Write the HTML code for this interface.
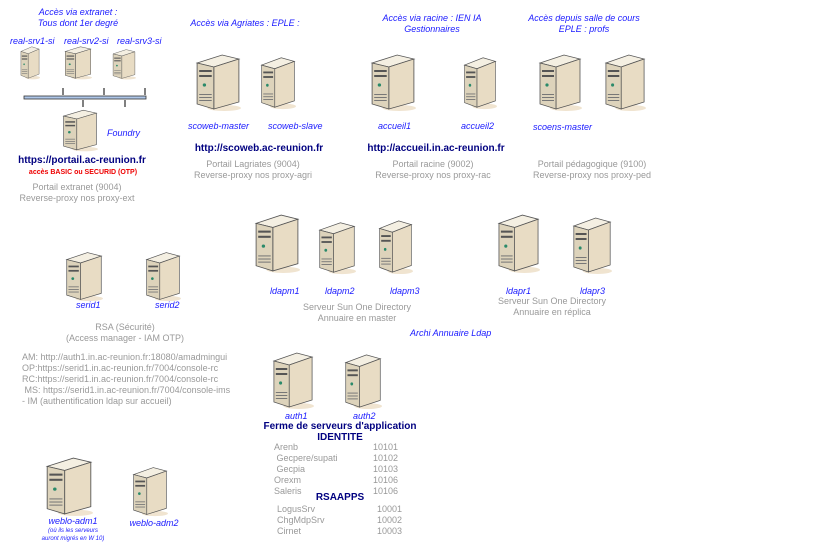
<!DOCTYPE html>
<html><head><meta charset="utf-8"><style>
body{margin:0;width:840px;height:557px;background:#fff;position:relative;overflow:hidden;font-family:"Liberation Sans",sans-serif}
.t{position:absolute;white-space:nowrap;font-size:9px;line-height:11px}
.b{color:#1a1aff;font-style:italic}
.n{color:#000080;font-weight:bold;font-size:10px}
.g{color:#999;font-size:9px;line-height:11px;text-align:center}
.c{text-align:center;transform:translateX(-50%)}
svg.s{position:absolute}
</style></head><body>
<svg width="0" height="0" style="position:absolute"><defs>
<g id="srv">
<ellipse cx="28" cy="56" rx="16" ry="3" fill="#f0e4d0"/>
<polygon points="2,11 26,3 42,7 18,15" fill="#f4efe2" stroke="#555" stroke-width="0.8"/>
<polygon points="18,15 42,7 42,50 18,57" fill="#e8dcc4" stroke="#555" stroke-width="0.8"/>
<polygon points="2,11 18,15 18,57 2,52" fill="#ddd3bb" stroke="#555" stroke-width="0.8"/>
<rect x="4" y="18" width="12" height="2" fill="#555"/><rect x="4" y="23" width="12" height="2" fill="#555"/>
<circle cx="9" cy="33" r="1.6" fill="#2a8a6a"/>
<rect x="4" y="42" width="12" height="1" fill="#777"/><rect x="4" y="45" width="12" height="1" fill="#777"/><rect x="4" y="48" width="12" height="1" fill="#777"/>
</g></defs></svg>
<svg class="s" style="left:20px;top:45px" width="20" height="35" viewBox="0 0 44 60" preserveAspectRatio="none"><use href="#srv"/></svg>
<svg class="s" style="left:64px;top:45px" width="28" height="35" viewBox="0 0 44 60" preserveAspectRatio="none"><use href="#srv"/></svg>
<svg class="s" style="left:112px;top:48px" width="24" height="32" viewBox="0 0 44 60" preserveAspectRatio="none"><use href="#srv"/></svg>
<svg class="s" style="left:62px;top:108px" width="36" height="44" viewBox="0 0 44 60" preserveAspectRatio="none"><use href="#srv"/></svg>
<svg class="s" style="left:195px;top:52px" width="46" height="60" viewBox="0 0 44 60" preserveAspectRatio="none"><use href="#srv"/></svg>
<svg class="s" style="left:260px;top:55px" width="36" height="55" viewBox="0 0 44 60" preserveAspectRatio="none"><use href="#srv"/></svg>
<svg class="s" style="left:370px;top:52px" width="46" height="60" viewBox="0 0 44 60" preserveAspectRatio="none"><use href="#srv"/></svg>
<svg class="s" style="left:463px;top:55px" width="34" height="55" viewBox="0 0 44 60" preserveAspectRatio="none"><use href="#srv"/></svg>
<svg class="s" style="left:538px;top:52px" width="44" height="60" viewBox="0 0 44 60" preserveAspectRatio="none"><use href="#srv"/></svg>
<svg class="s" style="left:604px;top:52px" width="42" height="60" viewBox="0 0 44 60" preserveAspectRatio="none"><use href="#srv"/></svg>
<svg class="s" style="left:254px;top:212px" width="46" height="62" viewBox="0 0 44 60" preserveAspectRatio="none"><use href="#srv"/></svg>
<svg class="s" style="left:318px;top:220px" width="38" height="55" viewBox="0 0 44 60" preserveAspectRatio="none"><use href="#srv"/></svg>
<svg class="s" style="left:378px;top:218px" width="35" height="57" viewBox="0 0 44 60" preserveAspectRatio="none"><use href="#srv"/></svg>
<svg class="s" style="left:497px;top:212px" width="43" height="62" viewBox="0 0 44 60" preserveAspectRatio="none"><use href="#srv"/></svg>
<svg class="s" style="left:572px;top:215px" width="40" height="60" viewBox="0 0 44 60" preserveAspectRatio="none"><use href="#srv"/></svg>
<svg class="s" style="left:65px;top:250px" width="38" height="52" viewBox="0 0 44 60" preserveAspectRatio="none"><use href="#srv"/></svg>
<svg class="s" style="left:145px;top:250px" width="36" height="52" viewBox="0 0 44 60" preserveAspectRatio="none"><use href="#srv"/></svg>
<svg class="s" style="left:272px;top:350px" width="42" height="60" viewBox="0 0 44 60" preserveAspectRatio="none"><use href="#srv"/></svg>
<svg class="s" style="left:344px;top:352px" width="38" height="58" viewBox="0 0 44 60" preserveAspectRatio="none"><use href="#srv"/></svg>
<svg class="s" style="left:45px;top:455px" width="48" height="62" viewBox="0 0 44 60" preserveAspectRatio="none"><use href="#srv"/></svg>
<svg class="s" style="left:132px;top:465px" width="36" height="52" viewBox="0 0 44 60" preserveAspectRatio="none"><use href="#srv"/></svg>
<!-- bus -->
<svg class="s" style="left:20px;top:84px" width="130" height="26">
<rect x="4" y="12" width="122" height="3" fill="#aec6e8" stroke="#333" stroke-width="0.8"/>
<line x1="43" y1="4" x2="43" y2="11" stroke="#000"/><line x1="84" y1="4" x2="84" y2="11" stroke="#000"/><line x1="125" y1="4" x2="125" y2="11" stroke="#000"/>
<line x1="63" y1="16" x2="63" y2="23" stroke="#000"/><line x1="105" y1="16" x2="105" y2="23" stroke="#000"/>
</svg>
<!-- labels -->
<div class="t b c" style="left:78px;top:7px;text-align:center">Accès via extranet :<br>Tous dont 1er degré</div>
<div class="t b" style="left:10px;top:36px">real-srv1-si</div>
<div class="t b" style="left:64px;top:36px">real-srv2-si</div>
<div class="t b" style="left:117px;top:36px">real-srv3-si</div>
<div class="t b" style="left:107px;top:128px">Foundry</div>
<div class="t n c" style="left:82px;top:155px">https://portail.ac-reunion.fr</div>
<div class="t c" style="left:83px;top:167px;color:#e00;font-size:7px;font-weight:bold">accès BASIC ou SECURID (OTP)</div>
<div class="t g c" style="left:77px;top:182px">Portail extranet (9004)<br>Reverse-proxy nos proxy-ext</div>
<div class="t b c" style="left:245px;top:18px">Accès via Agriates : EPLE :</div>
<div class="t b c" style="left:432px;top:13px;text-align:center">Accès via racine : IEN IA<br>Gestionnaires</div>
<div class="t b c" style="left:584px;top:13px;text-align:center">Accès depuis salle de cours<br>EPLE : profs</div>
<div class="t b" style="left:188px;top:121px">scoweb-master</div>
<div class="t b" style="left:268px;top:121px">scoweb-slave</div>
<div class="t b" style="left:378px;top:121px">accueil1</div>
<div class="t b" style="left:461px;top:121px">accueil2</div>
<div class="t b" style="left:533px;top:122px">scoens-master</div>
<div class="t n c" style="left:259px;top:143px">http://scoweb.ac-reunion.fr</div>
<div class="t n c" style="left:436px;top:143px">http://accueil.in.ac-reunion.fr</div>
<div class="t g c" style="left:253px;top:159px">Portail Lagriates (9004)<br>Reverse-proxy nos proxy-agri</div>
<div class="t g c" style="left:433px;top:159px">Portail racine (9002)<br>Reverse-proxy nos proxy-rac</div>
<div class="t g c" style="left:592px;top:159px">Portail pédagogique (9100)<br>Reverse-proxy nos proxy-ped</div>
<div class="t b" style="left:270px;top:286px">ldapm1</div>
<div class="t b" style="left:325px;top:286px">ldapm2</div>
<div class="t b" style="left:390px;top:286px">ldapm3</div>
<div class="t b" style="left:506px;top:286px">ldapr1</div>
<div class="t b" style="left:580px;top:286px">ldapr3</div>
<div class="t g c" style="left:357px;top:302px">Serveur Sun One Directory<br>Annuaire en master</div>
<div class="t g c" style="left:552px;top:296px">Serveur Sun One Directory<br>Annuaire en réplica</div>
<div class="t b" style="left:410px;top:328px">Archi Annuaire Ldap</div>
<div class="t b" style="left:76px;top:300px">serid1</div>
<div class="t b" style="left:155px;top:300px">serid2</div>
<div class="t g c" style="left:125px;top:322px">RSA (Sécurité)<br>(Access manager - IAM OTP)</div>
<div class="t" style="left:22px;top:352px;color:#999;font-size:9px;line-height:11px">AM: http://auth1.in.ac-reunion.fr:18080/amadmingui<br>OP:https://serid1.in.ac-reunion.fr/7004/console-rc<br>RC:https://serid1.in.ac-reunion.fr/7004/console-rc<br>&nbsp;MS: https://serid1.in.ac-reunion.fr/7004/console-ims<br>- IM (authentification ldap sur accueil)</div>
<div class="t b" style="left:285px;top:411px">auth1</div>
<div class="t b" style="left:353px;top:411px">auth2</div>
<div class="t n c" style="left:340px;top:421px">Ferme de serveurs d'application</div>
<div class="t n c" style="left:340px;top:432px">IDENTITE</div>
<div class="t" style="left:274px;top:442px;color:#999;line-height:11px">Arenb<br>&nbsp;Gecpere/supati<br>&nbsp;Gecpia<br>Orexm<br>Saleris</div>
<div class="t" style="left:373px;top:442px;color:#999;line-height:11px">10101<br>10102<br>10103<br>10106<br>10106</div>
<div class="t n c" style="left:340px;top:492px">RSAAPPS</div>
<div class="t" style="left:277px;top:504px;color:#999;line-height:11px">LogusSrv<br>ChgMdpSrv<br>Cirnet</div>
<div class="t" style="left:377px;top:504px;color:#999;line-height:11px">10001<br>10002<br>10003</div>
<div class="t b c" style="left:73px;top:516px">weblo-adm1</div>
<div class="t b c" style="left:73px;top:527px;font-size:6px;line-height:8px;text-align:center">(où ils les serveurs<br>auront migrés en W 10)</div>
<div class="t b c" style="left:154px;top:518px">weblo-adm2</div>
</body></html>
